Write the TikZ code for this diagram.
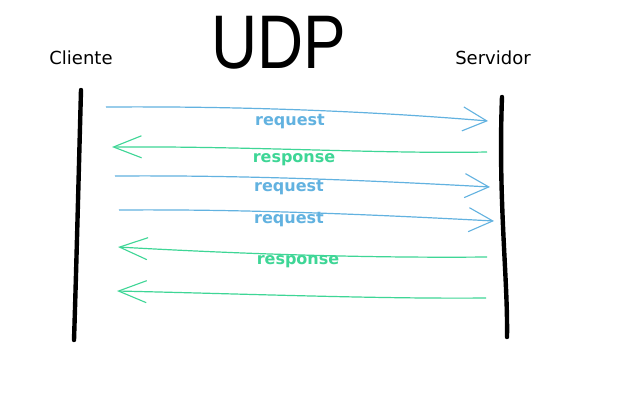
\documentclass[tikz,border=0pt]{standalone}
\usepackage{fontspec}
\setsansfont{DejaVu Sans}
\newfontfamily\titlefont{Liberation Sans}
\usetikzlibrary{arrows.meta}
\usepackage{xcolor}
\definecolor{reqblue}{RGB}{98,178,224}
\definecolor{respgreen}{RGB}{62,214,150}

\begin{document}
\begin{tikzpicture}[x=1pt, y=-1pt,
            lifeline/.style = {line width=4.4pt, line cap=round, black},
            req/.style = {reqblue, line width=1.2pt,
                -{Straight Barb[length=24pt, width=24pt, line width=1.1pt]}},
            resp/.style = {respgreen, line width=1.2pt,
                -{Straight Barb[length=28pt, width=22pt, line width=1.1pt]}},
            reqlabel/.style = {text=reqblue, font=\sffamily\bfseries\fontsize{16}{16}\selectfont},
            resplabel/.style = {text=respgreen, font=\sffamily\bfseries\fontsize{16}{16}\selectfont},
            side/.style = {font=\sffamily\fontsize{18}{18}\selectfont}
            ]
            \useasboundingbox[fill=white] (0,0) rectangle (640,400);
            % header
            \node[font=\titlefont\fontsize{76}{76}\selectfont, xscale=0.84] (title) at (279,43) {UDP};
            \node[side] (cliente) at (81,58) {Cliente};
            \node[side] (servidor) at (493,58) {Servidor};
            % lifelines
            \coordinate (ctop) at (81,90);
            \coordinate (cbot) at (74,340);
            \coordinate (stop) at (502,97);
            \coordinate (sbot) at (507,337);
            \draw[lifeline] (ctop) .. controls (78,200) and (76,280) .. (cbot);
            \draw[lifeline] (stop) .. controls (498,200) and (508,280) .. (sbot);
            % messages
            \coordinate (a1) at (106,107);  \coordinate (b1) at (488,121);
            \coordinate (a2) at (487,152);  \coordinate (b2) at (112,147);
            \coordinate (a3) at (115,176);  \coordinate (b3) at (490,187);
            \coordinate (a4) at (119,210);  \coordinate (b4) at (494,221);
            \coordinate (a5) at (487,257);  \coordinate (b5) at (118,247);
            \coordinate (a6) at (486,298);  \coordinate (b6) at (117,291);
            \draw[req] (a1) .. controls (250,106) and (380,112) .. (b1);
            \draw[resp] (a2) .. controls (380,154) and (250,146) .. (b2);
            \draw[req] (a3) .. controls (250,175) and (380,181) .. (b3);
            \draw[req] (a4) .. controls (250,209) and (380,215) .. (b4);
            \draw[resp] (a5) .. controls (380,258) and (260,255) .. (b5);
            \draw[resp] (a6) .. controls (380,299) and (250,294) .. (b6);
            % labels
            \node[reqlabel] (l1) at (290,122) {request};
            \node[resplabel] (l2) at (294,160) {response};
            \node[reqlabel] (l3) at (289,188) {request};
            \node[reqlabel] (l4) at (289,220) {request};
            \node[resplabel] (l5) at (298,262) {response};
        \end{tikzpicture}
\end{document}
